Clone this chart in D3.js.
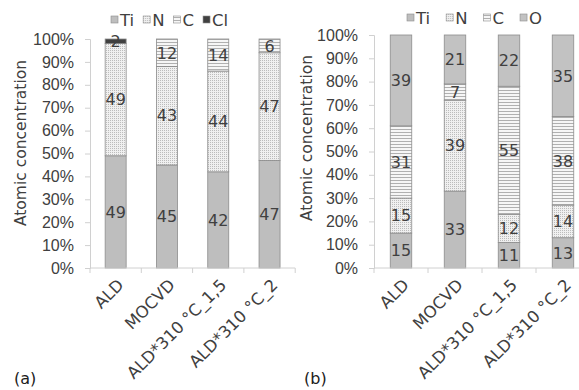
<!DOCTYPE html>
<html>
<head>
<meta charset="utf-8">
<script src="https://cdn.jsdelivr.net/npm/d3@7"></script>
<style>
  body { margin: 0; background: #fff; }
  svg { display: block; font-family: "DejaVu Sans", Verdana, sans-serif; }
</style>
</head>
<body>
<svg id="chart" width="579" height="390"></svg>
<script>
// categories shared by both panels
const categories = ['ALD', 'MOCVD', 'ALD*310 \u00b0C_1,5', 'ALD*310 \u00b0C_2'];
const yTicks = [0, 10, 20, 30, 40, 50, 60, 70, 80, 90, 100];

// panel (a)
const keysA = ['Ti', 'N', 'C', 'Cl'];
const tiA = [49, 45, 42, 47];
const nA = [49, 43, 44, 47];
const cA = [0, 12, 14, 6];
const clA = [2, 0, 0, 0];

// panel (b)
const keysB = ['Ti', 'N', 'C', 'O'];
const tiB = [15, 33, 11, 13];
const nB = [15, 39, 12, 14];
const cB = [31, 7, 55, 38];
const oB = [39, 21, 22, 35];

const svg = d3.select('#chart');
const textColor = '#404040';
const axisColor = '#d0d0d0';

// fill patterns
const defs = svg.append('defs');
let dots = defs.append('pattern')
    .attr('id', 'pat-dots')
    .attr('patternUnits', 'userSpaceOnUse')
    .attr('width', 2).attr('height', 2);
dots.append('rect').attr('width', 2).attr('height', 2).attr('fill', '#f0f0f0');
dots.append('rect').attr('x', 0).attr('y', 0).attr('width', 1).attr('height', 1).attr('fill', '#bcbcbc');

let lines = defs.append('pattern')
    .attr('id', 'pat-lines')
    .attr('patternUnits', 'userSpaceOnUse')
    .attr('width', 4).attr('height', 3);
lines.append('rect').attr('width', 4).attr('height', 3).attr('fill', '#f6f6f6');
lines.append('rect').attr('y', 0).attr('width', 4).attr('height', 1).attr('fill', '#b0b0b0');

const fills = {
    Ti: '#bebebe',
    N: 'url(#pat-dots)',
    C: 'url(#pat-lines)',
    Cl: '#404040',
    O: '#c2c2c2'
};

function drawPanel(opt)
{
    let rows = categories.map(function(name, i) {
        let r = { name: name };
        opt.keys.forEach(function(k, j) { r[k] = opt.series[j][i]; });
        return r;
    });

    let stacked = d3.stack().keys(opt.keys)(rows);

    let x = d3.scaleBand()
        .domain(categories)
        .range([opt.left, opt.left + opt.step * categories.length])
        .padding(0);

    let y = d3.scaleLinear()
        .domain([0, 100])
        .range([opt.bottom, opt.top]);

    let g = svg.append('g');
    let barW = opt.barW;

    // y axis
    let yAxis = d3.axisLeft(y)
        .tickValues(yTicks)
        .tickSize(5)
        .tickPadding(11)
        .tickFormat(function(d) { return d + '%'; });

    let ya = g.append('g')
        .attr('transform', 'translate(' + opt.left + ',0)')
        .call(yAxis);
    ya.select('.domain').attr('stroke', axisColor);
    ya.selectAll('.tick line').attr('stroke', axisColor);
    ya.selectAll('.tick text')
        .attr('fill', textColor)
        .style('font-size', '16px');

    // bars
    let layers = g.selectAll('.layer')
        .data(stacked)
        .enter()
        .append('g')
        .attr('class', 'layer');

    layers.selectAll('rect')
        .data(function(d) { return d.map(function(s) { s.key = d.key; return s; }); })
        .enter()
        .filter(function(d) { return d[1] - d[0] > 0; })
        .append('rect')
        .attr('x', function(d) { return x(d.data.name) + x.bandwidth() / 2 - barW / 2; })
        .attr('y', function(d) { return y(d[1]); })
        .attr('width', barW)
        .attr('height', function(d) { return y(d[0]) - y(d[1]); })
        .attr('fill', function(d) { return fills[d.key]; })
        .attr('stroke', '#8c8c8c')
        .attr('stroke-width', 0.8);

    // value labels
    layers.selectAll('text')
        .data(function(d) { return d.filter(function(s) { return s[1] - s[0] > 0; }); })
        .enter()
        .append('text')
        .attr('x', function(d) { return x(d.data.name) + x.bandwidth() / 2; })
        .attr('y', function(d) { return y((d[0] + d[1]) / 2); })
        .attr('dy', '0.36em')
        .attr('text-anchor', 'middle')
        .attr('fill', textColor)
        .style('font-size', '16px')
        .text(function(d) { return d[1] - d[0]; });

    // x axis
    let xa = g.append('g')
        .attr('transform', 'translate(0,' + opt.bottom + ')');
    xa.append('line')
        .attr('x1', opt.left).attr('x2', opt.left + opt.step * categories.length)
        .attr('stroke', axisColor);
    xa.selectAll('.xtick')
        .data(d3.range(categories.length + 1))
        .enter()
        .append('line')
        .attr('x1', function(i) { return opt.left + i * opt.step; })
        .attr('x2', function(i) { return opt.left + i * opt.step; })
        .attr('y1', 0).attr('y2', 5)
        .attr('stroke', axisColor);
    xa.selectAll('.xlabel')
        .data(categories)
        .enter()
        .append('text')
        .attr('transform', function(d) {
            return 'translate(' + (x(d) + x.bandwidth() / 2 + 5) + ',14) rotate(-45)';
        })
        .attr('text-anchor', 'end')
        .attr('dy', '0.35em')
        .attr('fill', textColor)
        .style('font-size', '16.5px')
        .text(function(d) { return d; });

    // y title
    g.append('text')
        .attr('transform', 'translate(' + opt.titleX + ',' + opt.titleY + ') rotate(-90)')
        .attr('text-anchor', 'middle')
        .attr('dy', '0.35em')
        .attr('fill', textColor)
        .style('font-size', '15.5px')
        .text('Atomic concentration');

    // legend
    let lx = opt.legendX;
    opt.keys.forEach(function(k, i) {
        let item = g.append('g').attr('transform', 'translate(' + lx + ',' + opt.legendY + ')');
        item.append('rect')
            .attr('x', 0).attr('y', -4)
            .attr('width', 7).attr('height', 7)
            .attr('fill', fills[k])
            .attr('stroke', '#8c8c8c')
            .attr('stroke-width', 0.6);
        let t = item.append('text')
            .attr('x', 9)
            .attr('dy', '0.35em')
            .attr('fill', textColor)
            .style('font-size', '16.5px')
            .text(k);
        lx += 9 + t.node().getComputedTextLength() + opt.legendGap;
    });

    // panel letter
    g.append('text')
        .attr('x', opt.letterX)
        .attr('y', 384)
        .attr('fill', '#202020')
        .style('font-size', '16px')
        .text(opt.letter);
}

drawPanel({
    keys: keysA,
    series: [tiA, nA, cA, clA],
    left: 90, step: 51.3, barW: 21,
    top: 39, bottom: 268,
    titleX: 21, titleY: 143,
    legendX: 111, legendY: 20, legendGap: 9,
    letter: '(a)', letterX: 14
});

drawPanel({
    keys: keysB,
    series: [tiB, nB, cB, oB],
    left: 374, step: 54, barW: 21.5,
    top: 35, bottom: 268,
    titleX: 307, titleY: 138,
    legendX: 407, legendY: 18, legendGap: 16,
    letter: '(b)', letterX: 304
});
</script>
</body>
</html>
